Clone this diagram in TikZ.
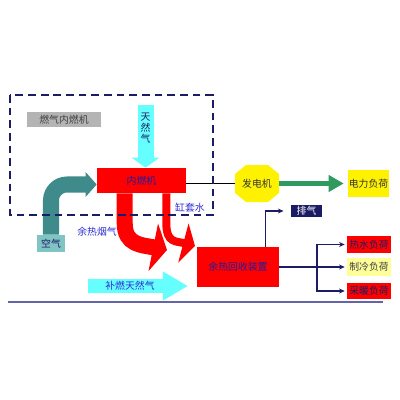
\documentclass[tikz,border=0pt]{standalone}
\usepackage{fontspec}
\setmainfont{Noto Sans CJK SC}
\usetikzlibrary{arrows.meta,calc}
\definecolor{boxred}{HTML}{FF0000}
\definecolor{navy}{HTML}{1C1C64}
\definecolor{txtblue}{HTML}{2E2ED0}
\definecolor{deepblue}{HTML}{1E1EA0}
\definecolor{gasblue}{HTML}{66FFFF}
\definecolor{airteal}{HTML}{3F8A8A}
\definecolor{airbox}{HTML}{80C4C4}
\definecolor{elecgreen}{HTML}{2E9A5E}
\definecolor{lightyel}{HTML}{FFFF99}
\definecolor{titlegray}{HTML}{B4B4B4}
\definecolor{ruleviolet}{HTML}{6464A8}
\tikzset{
	every node/.style={font=\fontsize{7}{8.5}\selectfont, inner sep=0pt},
	unit/.style={rectangle, fill=boxred, text=deepblue},
	loadbox/.style={rectangle, minimum width=1.1cm, minimum height=0.425cm, text=navy},
	pipe/.style={draw=navy, line width=1.1pt},
	fatarrow/.style n args={3}{line width=#1, -{Triangle[length=#2, width=#3]}}
}

\begin{document}
\begin{tikzpicture}[x=0.025cm, y=-0.025cm]
			%%%%% START %%%%%
			
			\fill[white] (0, 0) rectangle (400, 400);
			\useasboundingbox (0, 0) rectangle (400, 400);
			
			% engine and generator
			\node[unit, minimum width=2.225cm, minimum height=0.625cm] (engine) at (141.5, 180.5) {内燃机};
			\fill[yellow] (246, 165) -- (268, 165) -- (279, 174) -- (279, 193) -- (268, 202) -- (246, 202) -- (235, 193) -- (235, 174) -- cycle;
			\node[minimum width=1.1cm, minimum height=0.925cm, text=black!80] (gen) at (257, 183.5) {发电机};
			\node[loadbox, fill=yellow, minimum width=1.025cm, minimum height=0.675cm, text=black!80] (power) at (368.5, 183.5) {电力负荷};
			
			% heat recovery
			\node[unit, minimum width=2.05cm, minimum height=1cm] (hrsg) at (238, 267) {余热回收装置};
			\node[fill=navy, text=white, minimum width=0.775cm, minimum height=0.3cm] (exhaust) at (306.5, 211) {排气};
			\node[loadbox, fill=boxred] (hot) at (369, 244.5) {热水负荷};
			\node[loadbox, fill=lightyel, text=black!75] (cool) at (369, 267) {制冷负荷};
			\node[loadbox, fill=boxred, minimum height=0.4cm] (heat) at (369, 291) {采暖负荷};
			
			\node[fill=airbox, text=navy, minimum width=0.7cm, minimum height=0.425cm] (air) at (51, 243.5) {空气};
			\node[fill=titlegray, text=black!75, minimum width=1.85cm, minimum height=0.375cm] (title) at (64, 119.5) {燃气内燃机};
			
			% fat arrows
			\draw[fatarrow={0.4cm}{0.275cm}{0.6cm}, airteal, rounded corners=0.4cm] (air.north) |- ([yshift=-0.1cm]engine.west);
			
			\coordinate (gastop) at (145.5, 105);
			\draw[fatarrow={0.4cm}{0.25cm}{0.675cm}, gasblue] (gastop) -- (engine.north -| gastop);
			\node[align=center, text=navy, font=\fontsize{7}{8}\selectfont] (gas) at (145.5, 128) {天\\然\\气};
			
			\coordinate (flue) at (167, 250);
			\draw[fatarrow={0.4cm}{0.35cm}{1.2cm}, boxred] ([xshift=0.7cm]engine.south west) -- ++(0, 30) .. controls +(0, 22) and (142, 245) .. (flue);
			\coordinate (jacket) at (195, 246);
			\draw[fatarrow={0.2cm}{0.3cm}{1cm}, boxred] ([xshift=1.74cm]engine.south west) -- ++(0, 30) .. controls +(0, 20) and (176, 241) .. (jacket);
			\node[text=txtblue] (fluetext) at (97, 232) {余热烟气};
			\node[text=txtblue] (jackettext) at (190, 208) {缸套水};
			
			\coordinate (fuelstart) at (88, 286);
			\coordinate (fueltip) at (188, 286);
			\draw[fatarrow={0.35cm}{0.625cm}{0.675cm}, gasblue] (fuelstart) -- (fueltip);
			\node[text=txtblue] (fuel) at (130, 286) {补燃天然气};
			
			% shaft and power
			\draw[line width=1.4pt] (engine.east |- gen.west) -- (gen.west);
			\draw[fatarrow={0.125cm}{0.375cm}{0.4cm}, elecgreen, shorten >=0.1cm] (gen.east) -- (power.west);
			
			% heat lines
			\draw[pipe, -{Stealth[length=4pt, width=3.5pt]}, shorten >=0.18cm] ([xshift=-0.35cm]hrsg.north east) |- (exhaust.west);
			\coordinate (split) at (317, 267);
			\draw[pipe] (hrsg.east) -- (split);
			\draw[pipe, -{Stealth[length=4pt, width=3.5pt]}, shorten >=0.05cm] (split) |- (hot.west);
			\draw[pipe, -{Stealth[length=4pt, width=3.5pt]}, shorten >=0.05cm] (split) -- (cool.west);
			\draw[pipe, -{Stealth[length=4pt, width=3.5pt]}, shorten >=0.05cm] (split) |- (heat.west);
			
			% engine package frame
			\draw[navy, line width=1pt, dash pattern=on 5.5pt off 3.5pt] (10, 95) rectangle (213, 215);
			
			\draw[ruleviolet, line width=0.8pt] (8, 302) -- (383, 302);
			
			%%%%% END %%%%%
\end{tikzpicture}
\end{document}
